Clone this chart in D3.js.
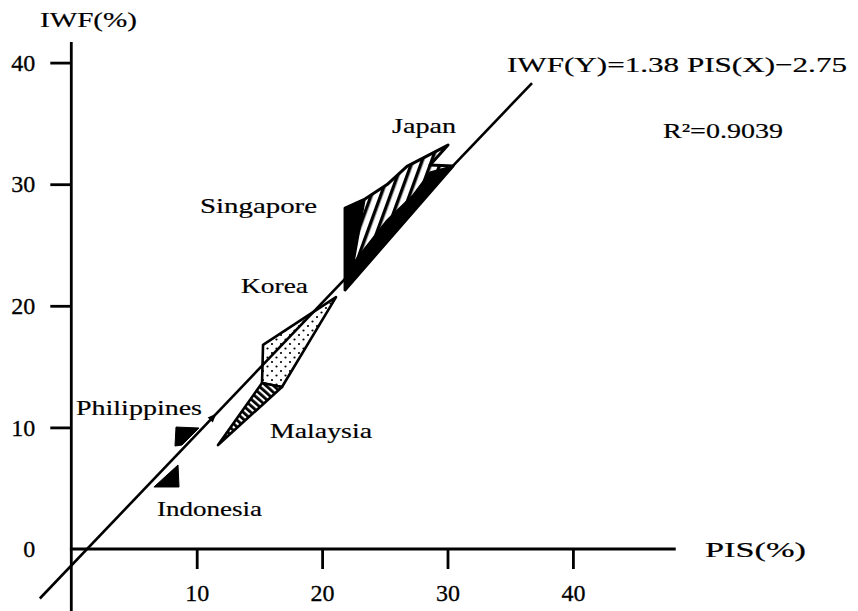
<!DOCTYPE html>
<html>
<head>
<meta charset="utf-8">
<script src="https://cdn.jsdelivr.net/npm/d3@7"></script>
<style>
  html, body { margin: 0; padding: 0; background: #fff; }
  svg { display: block; }
  text { font-family: "Liberation Serif", "Times New Roman", serif; fill: #000; }
</style>
</head>
<body>
<svg id="chart" width="858" height="611"></svg>
<script>
// ---- data -------------------------------------------------------------
const xTicks = [10, 20, 30, 40];
const yTicks = [0, 10, 20, 30, 40];

// fitted line, end to end, as [PIS %, IWF %]
const fitLine = [[-2.51, -4.07], [36.74, 38.32]];
const fitText = "IWF(Y)=1.38 PIS(X)\u22122.75";
const r2Text = "R\u00B2=0.9039";
// small direction arrow sitting on the fitted line (PIS %)
const arrowAt = [11.3];

// country paths, vertices as [PIS %, IWF %]
const japan = [[21.83, 21.30], [21.83, 28.04], [23.42, 28.78], [25.18, 29.97],
               [26.77, 31.47], [30.04, 33.22], [28.61, 31.58], [30.44, 31.50]];
const japanBand = [[21.83, 21.30], [22.54, 23.60], [25.18, 27.05], [27.25, 29.11],
                   [28.61, 31.00], [30.44, 31.50]];
const singapore = [[21.83, 21.30], [21.83, 28.04], [23.42, 28.78], [22.54, 23.60]];
const korea = [[21.11, 20.72], [15.29, 16.78], [15.21, 13.65], [16.80, 13.32]];
const malaysia = [[15.21, 13.65], [16.80, 13.32], [11.70, 8.55]];
const philippines = [[8.35, 10.03], [10.18, 9.95], [8.83, 8.55], [8.27, 8.47]];
const indonesia = [[8.51, 6.91], [6.59, 5.10], [8.59, 5.10]];

// axis extents
const xAxisEnd = 48.2;
const yAxisTop = 41.7;
const yAxisBottom = -5.2;

// ---- layout -----------------------------------------------------------
const labels = [
  { text: "IWF(%)",      x: 40,  y: 27,  w: 97 },
  { text: "Japan",       x: 392, y: 133, w: 64 },
  { text: "Singapore",   x: 200, y: 213, w: 117 },
  { text: "Korea",       x: 241, y: 293, w: 67 },
  { text: "Philippines", x: 76,  y: 415, w: 126 },
  { text: "Malaysia",    x: 270, y: 438, w: 102 },
  { text: "Indonesia",   x: 157, y: 516, w: 105 },
  { text: "PIS(%)",      x: 705, y: 557, w: 101 },
  { text: fitText,       x: 507, y: 72,  w: 340 },
  { text: r2Text,        x: 663, y: 138, w: 120 }
];

const svg = d3.select("#chart");
const x = d3.scaleLinear().domain([0, 40]).range([71.3, 572.9]);
const y = d3.scaleLinear().domain([0, 40]).range([549, 62.6]);
const shape = d3.line().x(d => x(d[0])).y(d => y(d[1])).curve(d3.curveLinearClosed);

// ---- fill patterns ------------------------------------------------------
const defs = svg.append("defs");

const jp = defs.append("pattern").attr("id", "jpHatch")
  .attr("patternUnits", "userSpaceOnUse").attr("width", 9).attr("height", 9)
  .attr("patternTransform", "rotate(20)");
jp.append("rect").attr("width", 9).attr("height", 9).attr("fill", "#fff");
jp.append("rect").attr("x", 0).attr("width", 3.4).attr("height", 9).attr("fill", "#000");

const my = defs.append("pattern").attr("id", "myHatch")
  .attr("patternUnits", "userSpaceOnUse").attr("width", 5).attr("height", 5)
  .attr("patternTransform", "rotate(-48)");
my.append("rect").attr("width", 5).attr("height", 5).attr("fill", "#fff");
my.append("rect").attr("width", 2.8).attr("height", 5).attr("fill", "#000");

const kr = defs.append("pattern").attr("id", "krDots")
  .attr("patternUnits", "userSpaceOnUse").attr("width", 9).attr("height", 9);
kr.append("rect").attr("width", 9).attr("height", 9).attr("fill", "#fff");
kr.append("circle").attr("cx", 2).attr("cy", 2).attr("r", 1.1).attr("fill", "#000");
kr.append("circle").attr("cx", 6.5).attr("cy", 6.5).attr("r", 1.1).attr("fill", "#000");

// ---- axes ---------------------------------------------------------------
svg.append("line")
  .attr("x1", x(0)).attr("x2", x(0))
  .attr("y1", y(yAxisTop)).attr("y2", y(yAxisBottom))
  .attr("stroke", "#000").attr("stroke-width", 2.8);
svg.append("line")
  .attr("x1", x(0) - 1.4).attr("x2", x(xAxisEnd))
  .attr("y1", y(0)).attr("y2", y(0))
  .attr("stroke", "#000").attr("stroke-width", 2.8);

const yAxis = svg.append("g")
  .attr("transform", `translate(${x(0)},0)`)
  .call(d3.axisLeft(y).tickValues(yTicks).tickFormat(d3.format("d"))
          .tickSize(21).tickPadding(15));
yAxis.select(".domain").remove();
yAxis.selectAll(".tick line").attr("stroke-width", 2.8)
  .attr("opacity", d => d === 0 ? 0 : 1);

const xAxis = svg.append("g")
  .attr("transform", `translate(0,${y(0)})`)
  .call(d3.axisBottom(x).tickValues(xTicks).tickFormat(d3.format("d"))
          .tickSize(20).tickPadding(15));
xAxis.select(".domain").remove();
xAxis.selectAll(".tick line").attr("stroke-width", 2.8);

svg.selectAll(".tick text")
  .attr("font-size", 24)
  .attr("fill", "#000")
  .attr("stroke", "#000").attr("stroke-width", 0.3);
svg.selectAll("g").attr("font-family", null).attr("font-size", null);

// ---- country paths --------------------------------------------------------
svg.append("path").attr("d", shape(korea))
  .attr("fill", "url(#krDots)").attr("stroke", "#000")
  .attr("stroke-width", 2.6).attr("stroke-linejoin", "round");
svg.append("path").attr("d", shape(malaysia))
  .attr("fill", "url(#myHatch)").attr("stroke", "#000")
  .attr("stroke-width", 2.6).attr("stroke-linejoin", "round");
svg.append("path").attr("d", shape(japan))
  .attr("fill", "url(#jpHatch)").attr("stroke", "#000")
  .attr("stroke-width", 3).attr("stroke-linejoin", "round");
svg.append("path").attr("d", shape(japanBand)).attr("fill", "#000")
  .attr("stroke", "#000").attr("stroke-width", 1.5);
svg.append("path").attr("d", shape(singapore)).attr("fill", "#000")
  .attr("stroke", "#000").attr("stroke-width", 1.5);
svg.append("path").attr("d", shape(philippines)).attr("fill", "#000")
  .attr("stroke", "#000").attr("stroke-width", 1);
svg.append("path").attr("d", shape(indonesia)).attr("fill", "#000")
  .attr("stroke", "#000").attr("stroke-width", 1);

// ---- fitted line -------------------------------------------------------------
svg.append("line")
  .attr("x1", x(fitLine[0][0])).attr("y1", y(fitLine[0][1]))
  .attr("x2", x(fitLine[1][0])).attr("y2", y(fitLine[1][1]))
  .attr("stroke", "#000").attr("stroke-width", 2.6);

const [p0, p1] = fitLine;
const slope = (p1[1] - p0[1]) / (p1[0] - p0[0]);
const angle = Math.atan2(y(p1[1]) - y(p0[1]), x(p1[0]) - x(p0[0])) * 180 / Math.PI;
arrowAt.forEach(v => {
  const iwf = p0[1] + slope * (v - p0[0]);
  svg.append("path")
    .attr("d", "M5,0 L-4,-3.5 L-4,3.5 Z")
    .attr("transform", `translate(${x(v)},${y(iwf)}) rotate(${angle})`)
    .attr("fill", "#000");
});

// ---- text ------------------------------------------------------------------
svg.append("g").selectAll("text").data(labels).join("text")
  .attr("x", d => d.x).attr("y", d => d.y)
  .attr("font-size", 22)
  .attr("textLength", d => d.w)
  .attr("lengthAdjust", "spacingAndGlyphs")
  .attr("stroke", "#000").attr("stroke-width", 0.2)
  .text(d => d.text);
</script>
</body>
</html>
